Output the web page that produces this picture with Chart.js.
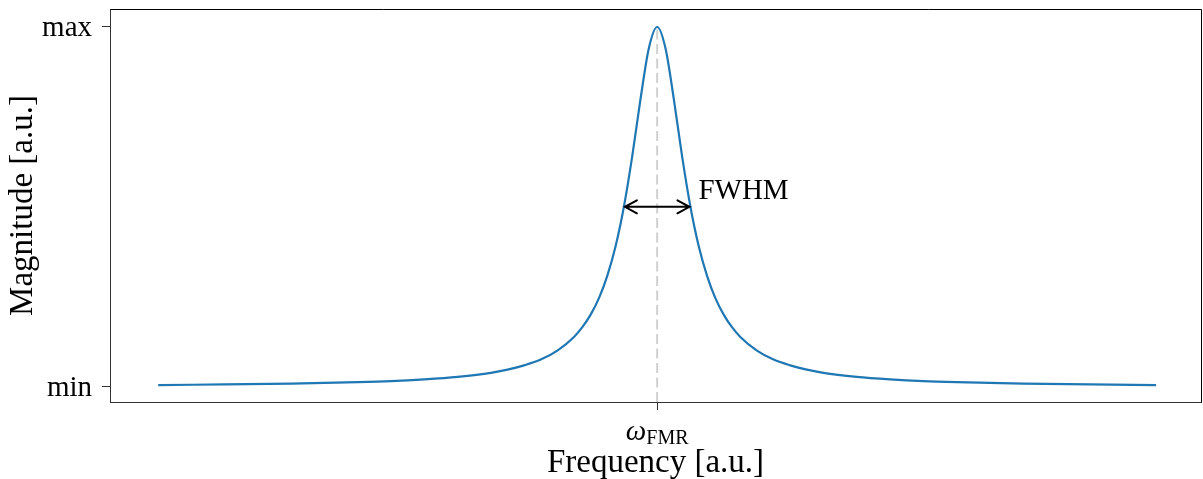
<!DOCTYPE html>
<html>
<head>
<meta charset="utf-8">
<script src="https://cdn.jsdelivr.net/npm/chart.js@4"></script>
<style>
  html, body { margin: 0; padding: 0; background: #ffffff; }
  #wrap { width: 1203px; height: 479px; }
</style>
</head>
<body>
<div id="wrap"><canvas id="c" width="1203" height="479"></canvas></div>
<script>
// Frequency offset from resonance (a.u.) and the normalised response magnitude
const FREQ = [-15, -13, -11, -10, -9, -8, -7, -6, -5, -4.5, -4, -3.5, -3, -2.5, -2.25, -2, -1.75, -1.5, -1.25, -1, -0.75, -0.5, -0.25,
              0, 0.25, 0.5, 0.75, 1, 1.25, 1.5, 1.75, 2, 2.25, 2.5, 3, 3.5, 4, 4.5, 5, 6, 7, 8, 9, 10, 11, 13, 15];
const MAGNITUDE = [0.004, 0.006, 0.008, 0.010, 0.012, 0.015, 0.020, 0.027, 0.038, 0.047, 0.059, 0.075, 0.100, 0.138, 0.165, 0.200, 0.246, 0.308, 0.390, 0.500, 0.640, 0.800, 0.941,
                   1.000, 0.941, 0.800, 0.640, 0.500, 0.390, 0.308, 0.246, 0.200, 0.165, 0.138, 0.100, 0.075, 0.059, 0.047, 0.038, 0.027, 0.020, 0.015, 0.012, 0.010, 0.008, 0.006, 0.004];

// Resonance position and the half-maximum crossing points
const OMEGA_FMR = 0;
const FWHM_LEFT = -1;
const FWHM_RIGHT = 1;
const HALF_MAX = 0.5;

// Axis tick values and their labels
const Y_TICKS = [0, 1];
const Y_TICK_LABELS = ['min', 'max'];
const X_TICKS = [OMEGA_FMR];

const SERIF = "'Liberation Serif', 'Times New Roman', serif";
const BLUE = '#1f77b4';

const points = FREQ.map((f, i) => ({ x: f, y: MAGNITUDE[i] }));

// Draws the frame, the dashed resonance marker, the FWHM arrow and the ω_FMR tick label
const annotations = {
  id: 'annotations',
  beforeDatasetsDraw(chart) {
    const { ctx, chartArea, scales } = chart;
    const x0 = scales.x.getPixelForValue(OMEGA_FMR);
    const yPeak = scales.y.getPixelForValue(Math.max(...MAGNITUDE));
    ctx.save();
    ctx.strokeStyle = '#d0d0d0';
    ctx.lineWidth = 2;
    ctx.setLineDash([10, 4.5]);
    ctx.beginPath();
    ctx.moveTo(x0, chartArea.bottom);
    ctx.lineTo(x0, yPeak);
    ctx.stroke();
    ctx.restore();
  },
  afterDraw(chart) {
    const { ctx, chartArea, scales } = chart;
    ctx.save();
    // top and right spines
    ctx.strokeStyle = '#000';
    ctx.lineWidth = 1;
    ctx.beginPath();
    ctx.moveTo(Math.round(chartArea.left) + 0.5, Math.round(chartArea.top) + 0.5);
    ctx.lineTo(Math.round(chartArea.right) + 0.5, Math.round(chartArea.top) + 0.5);
    ctx.lineTo(Math.round(chartArea.right) + 0.5, Math.round(chartArea.bottom) + 0.5);
    ctx.stroke();

    // double-headed FWHM arrow
    const xl = scales.x.getPixelForValue(FWHM_LEFT);
    const xr = scales.x.getPixelForValue(FWHM_RIGHT);
    const ym = scales.y.getPixelForValue(HALF_MAX);
    const hl = 13, hw = 6.5;
    ctx.strokeStyle = '#000';
    ctx.lineWidth = 2;
    ctx.lineCap = 'round';
    ctx.lineJoin = 'miter';
    ctx.beginPath();
    ctx.moveTo(xl + 1, ym);
    ctx.lineTo(xr - 1, ym);
    ctx.moveTo(xl + hl, ym - hw);
    ctx.lineTo(xl + 1, ym);
    ctx.lineTo(xl + hl, ym + hw);
    ctx.moveTo(xr - hl, ym - hw);
    ctx.lineTo(xr - 1, ym);
    ctx.lineTo(xr - hl, ym + hw);
    ctx.stroke();

    // FWHM label
    ctx.fillStyle = '#000';
    ctx.font = '29px ' + SERIF;
    ctx.textAlign = 'left';
    ctx.textBaseline = 'alphabetic';
    ctx.fillText('FWHM', xr + 8, ym - 8);

    // ω_FMR tick label under the resonance tick
    const xt = scales.x.getPixelForValue(OMEGA_FMR);
    const base = chartArea.bottom + 38;
    ctx.font = 'italic 29px ' + SERIF;
    const wOmega = ctx.measureText('ω').width;
    ctx.font = '20px ' + SERIF;
    const wSub = ctx.measureText('FMR').width;
    const start = xt - (wOmega + wSub) / 2;
    ctx.font = 'italic 29px ' + SERIF;
    ctx.fillText('ω', start, base);
    ctx.font = '20px ' + SERIF;
    ctx.fillText('FMR', start + wOmega, base + 4);
    ctx.restore();
  }
};

new Chart(document.getElementById('c'), {
  type: 'line',
  data: {
    datasets: [{
      data: points,
      borderColor: BLUE,
      borderWidth: 2.2,
      pointRadius: 0,
      fill: false,
      cubicInterpolationMode: 'monotone'
    }]
  },
  options: {
    responsive: false,
    animation: false,
    devicePixelRatio: 1,
    layout: { padding: { top: 9, right: 2, left: 0, bottom: 0 } },
    plugins: { legend: { display: false }, tooltip: { enabled: false } },
    scales: {
      x: {
        type: 'linear',
        min: -16.45,
        max: 16.35,
        afterFit(scale) { scale.height = 77; scale.paddingLeft = 0; scale.paddingRight = 0; },
        afterBuildTicks(scale) { scale.ticks = X_TICKS.map(v => ({ value: v })); },
        ticks: { callback: () => '', autoSkip: false, font: { size: 29, family: SERIF } },
        grid: { drawOnChartArea: false, drawTicks: true, tickLength: 8, tickColor: '#333', tickWidth: 1 },
        border: { display: true, color: '#333', width: 1 },
        title: {
          display: true,
          text: 'Frequency [a.u.]',
          color: '#000',
          font: { size: 33, family: SERIF, lineHeight: 1 },
          padding: { top: 0, bottom: -1 }
        }
      },
      y: {
        type: 'linear',
        min: -0.043,
        max: 1.05,
        afterFit(scale) { scale.width = 110; scale.paddingTop = 0; scale.paddingBottom = 0; },
        afterBuildTicks(scale) { scale.ticks = Y_TICKS.map(v => ({ value: v })); },
        ticks: {
          autoSkip: false,
          color: '#000',
          padding: 10,
          labelOffset: 1.5,
          font: { size: 29, family: SERIF },
          callback: (v) => Y_TICK_LABELS[Y_TICKS.indexOf(v)]
        },
        grid: { drawOnChartArea: false, drawTicks: true, tickLength: 8, tickColor: '#333', tickWidth: 1 },
        border: { display: true, color: '#333', width: 1 },
        title: {
          display: true,
          text: 'Magnitude [a.u.]',
          color: '#000',
          font: { size: 33, family: SERIF, lineHeight: 1 },
          padding: { top: 6.5, bottom: 0 }
        }
      }
    }
  },
  plugins: [annotations]
});
</script>
</body>
</html>
